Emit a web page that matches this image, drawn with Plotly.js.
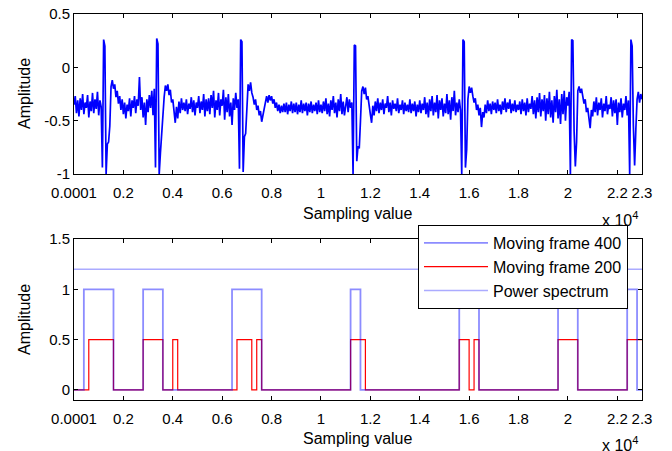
<!DOCTYPE html>
<html><head><meta charset="utf-8">
<script src="https://cdn.plot.ly/plotly-3.0.1.min.js"></script>
<style>html,body{margin:0;padding:0;background:#fff}#chart{width:672px;height:451px}</style>
</head><body><div id="chart"></div>
<script>
// x axis ticks (samples, labelled in units of 10^4)
const xTickVals = [1, 2000, 4000, 6000, 8000, 10000, 12000, 14000, 16000, 18000, 20000, 22000, 23000];
const xTickText = ['0.0001', '0.2', '0.4', '0.6', '0.8', '1', '1.2', '1.4', '1.6', '1.8', '2', '2.2', '2.3'];
const topYTickVals = [-1, -0.5, 0, 0.5];
const topYTickText = ['-1', '-0.5', '0', '0.5'];
const botYTickVals = [0, 0.5, 1, 1.5];
const botYTickText = ['0', '0.5', '1', '1.5'];

// ECG signal, one reading every 50 samples starting at sample 1
const ecgFirstSample = 1;
const ecgSampleStep = 50;
const ecgAmplitude = [
-0.35,-0.27,-0.43,-0.31,-0.46,-0.29,-0.40,-0.25,-0.44,-0.33,
-0.38,-0.26,-0.47,-0.32,-0.41,-0.24,-0.43,-0.30,-0.39,-0.23,
-0.45,-0.31,-0.37,-0.94,0.26,0.20,-1.00,-0.72,-0.70,-0.55,
-0.18,-0.12,-0.20,-0.16,-0.28,-0.22,-0.34,-0.27,-0.40,-0.30,
-0.44,-0.33,-0.48,-0.35,-0.41,-0.29,-0.46,-0.31,-0.38,-0.27,
-0.43,-0.30,-0.36,-0.09,-0.40,-0.28,-0.47,-0.33,-0.54,-0.30,
-0.42,-0.26,-0.38,-0.22,-0.45,-0.20,-0.94,0.27,0.22,-1.00,
-0.80,-0.60,-0.45,-0.28,-0.17,-0.22,-0.16,-0.26,-0.21,-0.33,
-0.30,-0.44,-0.52,-0.37,-0.48,-0.32,-0.43,-0.29,-0.40,-0.33,
-0.41,-0.30,-0.44,-0.34,-0.39,-0.28,-0.42,-0.31,-0.45,-0.33,
-0.38,-0.27,-0.43,-0.32,-0.40,-0.25,-0.46,-0.30,-0.41,-0.29,
-0.44,-0.26,-0.38,-0.22,-0.47,-0.31,-0.40,-0.24,-0.45,-0.30,
-0.36,-0.21,-0.49,-0.28,-0.42,-0.25,-0.46,-0.33,-0.54,-0.29,
-0.40,-0.24,-0.38,-0.30,-0.95,0.26,0.24,-0.98,-0.65,-0.62,
-0.30,-0.16,-0.22,-0.14,-0.24,-0.28,-0.35,-0.30,-0.40,-0.36,
-0.45,-0.41,-0.51,-0.44,-0.38,-0.30,-0.27,-0.33,-0.26,-0.31,
-0.27,-0.34,-0.30,-0.38,-0.33,-0.41,-0.35,-0.43,-0.36,-0.42,
-0.34,-0.42,-0.33,-0.44,-0.35,-0.41,-0.32,-0.43,-0.34,-0.42,
-0.33,-0.44,-0.35,-0.42,-0.31,-0.43,-0.34,-0.41,-0.33,-0.45,
-0.34,-0.42,-0.32,-0.43,-0.35,-0.41,-0.33,-0.44,-0.31,-0.42,
-0.35,-0.43,-0.32,-0.41,-0.29,-0.44,-0.34,-0.46,-0.31,-0.40,
-0.27,-0.43,-0.33,-0.47,-0.30,-0.41,-0.25,-0.44,-0.32,-0.45,
-0.36,-0.28,-0.42,-0.30,-0.38,-0.33,-1.00,0.21,0.20,-0.88,
-0.74,-0.76,-0.50,-0.22,-0.18,-0.25,-0.19,-0.30,-0.27,-0.38,
-0.44,-0.52,-0.36,-0.45,-0.32,-0.41,-0.29,-0.43,-0.33,-0.40,
-0.30,-0.44,-0.34,-0.38,-0.27,-0.42,-0.33,-0.45,-0.31,-0.39,
-0.34,-0.41,-0.29,-0.43,-0.35,-0.40,-0.31,-0.44,-0.33,-0.41,
-0.35,-0.42,-0.30,-0.43,-0.34,-0.41,-0.32,-0.46,-0.35,-0.42,
-0.31,-0.43,-0.34,-0.40,-0.28,-0.44,-0.33,-0.47,-0.30,-0.41,
-0.27,-0.45,-0.33,-0.42,-0.26,-0.48,-0.31,-0.40,-0.29,-0.46,
-0.34,-0.43,-0.25,-0.44,-0.31,-0.49,-0.28,-0.41,-0.22,-0.45,
-0.33,-0.42,-0.30,-0.40,-1.00,0.26,0.24,-0.94,-0.77,-0.30,
-0.18,-0.24,-0.19,-0.27,-0.33,-0.29,-0.40,-0.35,-0.45,-0.38,
-0.56,-0.42,-0.47,-0.35,-0.43,-0.31,-0.41,-0.34,-0.44,-0.32,
-0.40,-0.33,-0.43,-0.30,-0.41,-0.35,-0.44,-0.32,-0.40,-0.29,
-0.42,-0.33,-0.39,-0.30,-0.43,-0.34,-0.41,-0.31,-0.42,-0.35,
-0.40,-0.32,-0.44,-0.30,-0.41,-0.33,-0.45,-0.29,-0.42,-0.34,
-0.39,-0.27,-0.44,-0.31,-0.48,-0.28,-0.42,-0.24,-0.46,-0.30,
-0.41,-0.26,-0.50,-0.29,-0.44,-0.23,-0.47,-0.31,-0.52,-0.27,
-0.42,-0.21,-0.48,-0.30,-0.53,-0.25,-0.44,-0.22,-0.50,-0.28,
-0.36,-0.23,-1.00,0.26,0.25,-0.60,-0.93,-0.70,-0.22,-0.18,
-0.24,-0.20,-0.28,-0.34,-0.30,-0.42,-0.38,-0.48,-0.57,-0.40,
-0.46,-0.32,-0.42,-0.28,-0.45,-0.33,-0.40,-0.29,-0.47,-0.34,
-0.41,-0.27,-0.44,-0.35,-0.39,-0.28,-0.46,-0.31,-0.43,-0.30,
-0.54,-0.33,-0.42,-0.29,-0.47,-0.34,-0.40,-0.27,-0.45,-0.31,
-1.00,0.26,0.20,-0.55,-0.92,-0.58,-0.30,-0.23,-0.33,-0.25,
-0.30
];

// Detection windows (step changes)
const frame400X = [1, 400, 1600, 2800, 3600, 6400, 7600, 11200, 11600, 15600, 16400, 19600, 20400, 22400, 22800, 23000];
const frame400Y = [0, 1, 0, 1, 0, 1, 0, 1, 0, 1, 0, 1, 0, 1, 0, 0];
const frame200X = [1, 600, 1600, 2800, 3600, 4000, 4200, 6600, 7200, 7400, 7600, 11200, 11800, 15600, 16000, 16200, 16400, 19600, 20400, 22400, 23000];
const frame200Y = [0, 0.5, 0, 0.5, 0, 0.5, 0, 0.5, 0, 0.5, 0, 0.5, 0, 0.5, 0, 0.5, 0, 0.5, 0, 0.5, 0.5];
const powerX = [1, 23000];
const powerY = [1.2, 1.2];

const seriesNames = ['Moving frame 400', 'Moving frame 200', 'Power spectrum'];

const FONT = 'Arial, "Liberation Sans", sans-serif';

const traces = [
  {x0: ecgFirstSample, dx: ecgSampleStep, y: ecgAmplitude, type: 'scatter', mode: 'lines',
   line: {color: '#0000ff', width: 1.7}, xaxis: 'x', yaxis: 'y', showlegend: false, hoverinfo: 'skip'},
  {x: frame200X, y: frame200Y, type: 'scatter', mode: 'lines', name: seriesNames[1], legendrank: 2,
   line: {color: '#ff0000', width: 1.2, shape: 'hv'}, xaxis: 'x2', yaxis: 'y2'},
  {x: frame400X, y: frame400Y, type: 'scatter', mode: 'lines', name: seriesNames[0], legendrank: 1,
   line: {color: 'rgba(0,0,255,0.45)', width: 1.8, shape: 'hv'}, xaxis: 'x2', yaxis: 'y2'},
  {x: powerX, y: powerY, type: 'scatter', mode: 'lines', name: seriesNames[2], legendrank: 3,
   line: {color: 'rgba(0,0,255,0.33)', width: 1.6}, xaxis: 'x2', yaxis: 'y2'}
];

const axisCommon = {
  showline: true, linecolor: '#000', linewidth: 1, mirror: 'ticks',
  ticks: 'inside', ticklen: 4, tickcolor: '#000', showgrid: false, zeroline: false,
  tickfont: {family: FONT, size: 15, color: '#000'}, fixedrange: true
};
const xDom = [74/672, 642/672];

const layout = {
  width: 672, height: 451,
  margin: {l: 0, r: 0, t: 0, b: 0},
  paper_bgcolor: '#fff', plot_bgcolor: '#fff',
  showlegend: true,
  legend: {x: 418/672, y: 1 - 225/451, xanchor: 'left', yanchor: 'top',
    bgcolor: '#fff', bordercolor: '#000', borderwidth: 1,
    font: {family: FONT, size: 16, color: '#000'}, itemwidth: 64, traceorder: 'normal'},
  xaxis: Object.assign({}, axisCommon, {domain: xDom, anchor: 'y', range: [1, 23000],
    tickmode: 'array', tickvals: xTickVals, ticktext: xTickText, ticklabelstandoff: 5}),
  yaxis: Object.assign({}, axisCommon, {domain: [1 - 174/451, 1 - 14/451], anchor: 'x', range: [-1, 0.5],
    tickmode: 'array', tickvals: topYTickVals, ticktext: topYTickText}),
  xaxis2: Object.assign({}, axisCommon, {domain: xDom, anchor: 'y2', range: [1, 23000],
    tickmode: 'array', tickvals: xTickVals, ticktext: xTickText, ticklabelstandoff: 5}),
  yaxis2: Object.assign({}, axisCommon, {domain: [1 - 400/451, 1 - 239/451], anchor: 'x2', range: [-0.1, 1.5],
    tickmode: 'array', tickvals: botYTickVals, ticktext: botYTickText}),
  annotations: [
    {text: 'Amplitude', xref: 'paper', yref: 'paper', x: 24/672, y: 1 - 94/451, textangle: -90,
     showarrow: false, font: {family: FONT, size: 16, color: '#000'}, xanchor: 'center', yanchor: 'middle'},
    {text: 'Amplitude', xref: 'paper', yref: 'paper', x: 24/672, y: 1 - 320/451, textangle: -90,
     showarrow: false, font: {family: FONT, size: 16, color: '#000'}, xanchor: 'center', yanchor: 'middle'},
    {text: 'Sampling value', xref: 'paper', yref: 'paper', x: 358/672, y: 1 - 213/451,
     showarrow: false, font: {family: FONT, size: 16, color: '#000'}, xanchor: 'center', yanchor: 'middle'},
    {text: 'Sampling value', xref: 'paper', yref: 'paper', x: 358/672, y: 1 - 438/451,
     showarrow: false, font: {family: FONT, size: 16, color: '#000'}, xanchor: 'center', yanchor: 'middle'},
    {text: 'x 10<sup>4</sup>', xref: 'paper', yref: 'paper', x: 600/672, y: 1 - 219/451,
     showarrow: false, font: {family: FONT, size: 16, color: '#000'}, xanchor: 'left', yanchor: 'middle'},
    {text: 'x 10<sup>4</sup>', xref: 'paper', yref: 'paper', x: 600/672, y: 1 - 444/451,
     showarrow: false, font: {family: FONT, size: 16, color: '#000'}, xanchor: 'left', yanchor: 'middle'}
  ]
};

Plotly.newPlot('chart', traces, layout, {displayModeBar: false, staticPlot: true});
</script>
</body></html>
